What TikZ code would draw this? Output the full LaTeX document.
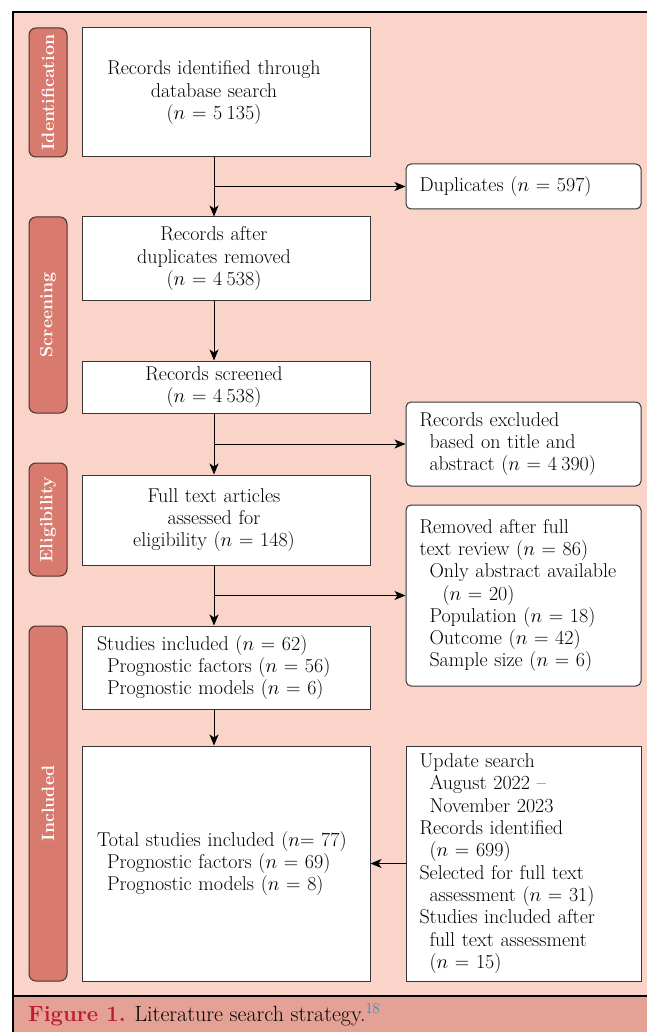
\documentclass[tikz,border=0pt]{standalone}
\usepackage{fix-cm}
\usetikzlibrary{arrows.meta}
\definecolor{bgpink}{RGB}{250,211,201}
\definecolor{tabred}{RGB}{216,122,110}
\definecolor{tabedge}{RGB}{70,50,48}
\definecolor{capband}{RGB}{228,161,149}
\definecolor{figred}{RGB}{190,28,52}
\definecolor{refblue}{RGB}{40,135,195}
\definecolor{boxedge}{RGB}{55,55,55}
\newcommand{\flowfont}{\fontsize{20}{22.3}\selectfont}
\newcommand{\ctext}[1]{\parbox{234pt}{\centering #1}\hspace*{24pt}}
\newcommand{\indA}{\hspace*{10pt}}
\newcommand{\nval}[1]{($n$~=~#1)}
\newcommand{\gsp}{\hspace{.22em}}

\begin{document}
\begin{tikzpicture}[x=1pt,y=-1pt,
  flow/.style={draw=boxedge,fill=white,line width=1pt,font=\flowfont,inner ysep=0pt},
  mainbox/.style={flow,minimum width=288,text width=258,inner xsep=15,align=left},
  sidebox/.style={flow,minimum width=235,text width=208,inner xsep=13.5,align=left},
  stage/.style={draw=tabedge,fill=tabred,line width=1pt,rounded corners=7pt,rotate=90,
    minimum height=38,inner sep=0pt,text=white,font=\fontsize{17.8}{20}\selectfont\bfseries},
  conn/.style={line width=1pt,-{Stealth[length=11pt,width=9pt,inset=3pt]}}]
  \useasboundingbox (0,0) rectangle (646,1032);
  \fill[bgpink] (12.8,12) rectangle (700,996);
  \fill[capband] (12.8,996) rectangle (700,1040);
  \draw[line width=2] (700,12) -- (12.8,12) -- (12.8,1040);
  \draw[line width=1.5] (12.8,996) -- (700,996);

  \node[stage,minimum width=129] (idtab) at (48,92.5) {Identification};
  \node[stage,minimum width=196] (sctab) at (48,315) {Screening};
  \node[stage,minimum width=113] (eltab) at (48,519.5) {Eligibility};
  \node[stage,minimum width=355] (intab) at (48,803.5) {Included};

  \node[mainbox,minimum height=129] (found) at (226,92.5) {\ctext{Records identified through\\database search\\\nval{5\gsp135}}};
  \node[mainbox,minimum height=83] (dedup) at (226,258.5) {\ctext{Records after\\duplicates removed\\\nval{4\gsp538}}};
  \node[mainbox,minimum height=52] (screen) at (226,387) {\ctext{Records screened\\\nval{4\gsp538}}};
  \node[mainbox,minimum height=90] (fulltext) at (226,520) {\ctext{Full text articles\\assessed for\\eligibility \nval{148}}};
  \node[mainbox,minimum height=83] (incl) at (226,667.5) {Studies included \nval{62}\\\indA Prognostic factors \nval{56}\\\indA Prognostic models \nval{6}};
  \node[mainbox,minimum height=235] (total) at (226,863.5) {Total studies included ($n$=~77)\\\indA Prognostic factors \nval{69}\\\indA Prognostic models \nval{8}};

  \node[sidebox,rounded corners=5pt,minimum height=45] (dup) at (523.5,186.5) {Duplicates \nval{597}};
  \node[sidebox,rounded corners=5pt,minimum height=84] (excl) at (523.5,444) {Records excluded\\\indA based on title and\\\indA abstract \nval{4\gsp390}};
  \node[sidebox,rounded corners=5pt,minimum height=181] (removed) at (523.5,595.5) {Removed after full\\text review \nval{86}\\\indA Only abstract available\\\hspace*{23pt}\nval{20}\\\indA Population \nval{18}\\\indA Outcome \nval{42}\\\indA Sample size \nval{6}};
  \node[sidebox,minimum height=235] (update) at (523.5,863.5) {Update search\\\indA August 2022 --\\\indA November 2023\\Records identified\\\indA\nval{699}\\Selected for full text\\\indA assessment \nval{31}\\Studies included after\\\indA full text assessment\\\indA\nval{15}};

  \coordinate (spine) at (214,0);
  \coordinate (b1) at (spine |- dup.west);
  \coordinate (b2) at (spine |- excl.west);
  \coordinate (b3) at (spine |- removed.west);
  \draw[conn] (found.south -| spine) -- (dedup.north -| spine);
  \draw[conn] (dedup.south -| spine) -- (screen.north -| spine);
  \draw[conn] (screen.south -| spine) -- (fulltext.north -| spine);
  \draw[conn] (fulltext.south -| spine) -- (incl.north -| spine);
  \draw[conn] (incl.south -| spine) -- (total.north -| spine);
  \draw[conn] (b1) -- (dup.west);
  \draw[conn] (b2) -- (excl.west);
  \draw[conn] (b3) -- (removed.west);
  \draw[conn] (update.west) -- (total.east |- update.west);

  \node[anchor=base west,inner sep=0pt,font=\fontsize{22}{26}\selectfont] (caption) at (28,1021)
    {\textcolor{figred}{\bfseries Figure 1.} Literature search strategy.\textsuperscript{\textcolor{refblue}{18}}};
\end{tikzpicture}
\end{document}
